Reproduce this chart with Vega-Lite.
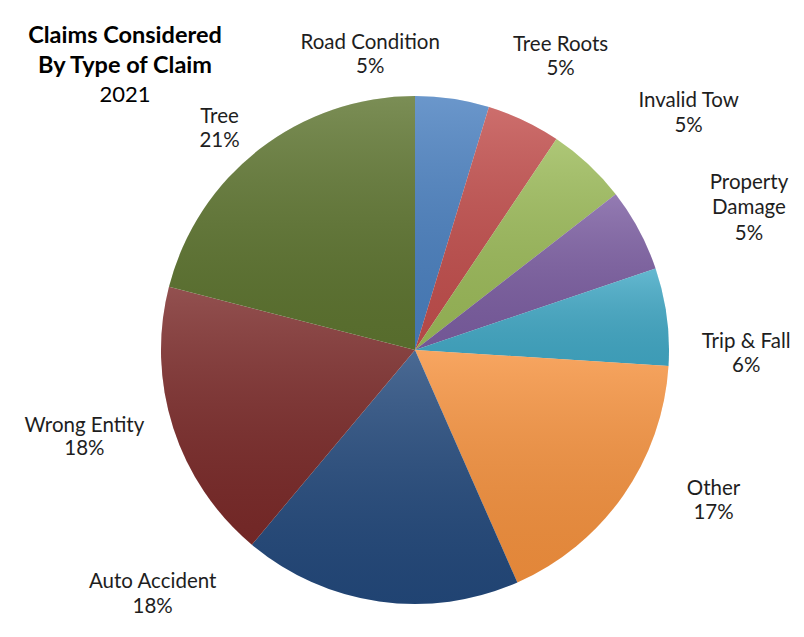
{
  "$schema": "https://vega.github.io/schema/vega-lite/v6.json",
  "width": 508,
  "height": 508,
  "autosize": {"type": "none"},
  "padding": {"left": 161, "top": 96, "right": 135, "bottom": 33},
  "background": "white",
  "config": {
    "view": {"stroke": null},
    "font": "Lato",
    "text": {"font": "Lato", "fontSize": 20.5, "color": "#1e1e1e", "align": "center", "baseline": "alphabetic", "lineHeight": 25}
  },
  "title": {
    "text": ["Claims Considered", "By Type of Claim"],
    "subtitle": "2021",
    "anchor": "start",
    "align": "center",
    "frame": "group",
    "dx": -36,
    "dy": 142,
    "offset": 0,
    "font": "Lato",
    "fontSize": 23.5,
    "fontWeight": "bold",
    "color": "#000000",
    "lineHeight": 30,
    "subtitleFont": "Lato",
    "subtitleFontSize": 22,
    "subtitleFontWeight": "normal",
    "subtitleColor": "#000000",
    "subtitlePadding": 7
  },
  "data": {
    "values": [
      {"cat": "Road Condition", "share": 0.047},
      {"cat": "Tree Roots", "share": 0.047},
      {"cat": "Invalid Tow", "share": 0.051},
      {"cat": "Property Damage", "share": 0.053},
      {"cat": "Trip & Fall", "share": 0.062},
      {"cat": "Other", "share": 0.174},
      {"cat": "Auto Accident", "share": 0.177},
      {"cat": "Wrong Entity", "share": 0.179},
      {"cat": "Tree", "share": 0.21}
    ]
  },
  "transform": [{"window": [{"op": "row_number", "as": "idx"}]}],
  "encoding": {
    "theta": {"field": "share", "type": "quantitative", "stack": true},
    "order": {"field": "idx", "type": "quantitative"},
    "detail": {"field": "cat", "type": "nominal"}
  },
  "layer": [
    {
      "mark": {"type": "arc"},
      "encoding": {
        "color": {
          "field": "cat",
          "type": "nominal",
          "legend": null,
          "scale": {
            "domain": ["Road Condition", "Tree Roots", "Invalid Tow", "Property Damage", "Trip & Fall", "Other", "Auto Accident", "Wrong Entity", "Tree"],
            "range": ["#4a80c0", "#c24e4c", "#9cbb59", "#7c5ea2", "#42a9c6", "#f6923e", "#23497c", "#7b2a29", "#5e7530"]
          }
        }
      }
    },
    {
      "mark": {
        "type": "arc",
        "fill": {
          "gradient": "linear",
          "x1": 0, "y1": 0, "x2": 0, "y2": 1,
          "stops": [
            {"offset": 0, "color": "rgba(255,255,255,0.18)"},
            {"offset": 1, "color": "rgba(0,0,0,0.08)"}
          ]
        }
      }
    },
    {
      "layer": [
        {"mark": {"type": "text", "radius": 287, "dx": -87, "dy": -17},
         "encoding": {"text": {"condition": {"test": "datum.cat === 'Road Condition'", "field": "cat", "type": "nominal"}, "value": ""}}},
        {"mark": {"type": "text", "radius": 287, "dx": -87, "dy": 7},
         "encoding": {"text": {"condition": {"test": "datum.cat === 'Road Condition'", "field": "share", "type": "quantitative", "format": ".0%"}, "value": ""}}}
      ]
    },
    {
      "layer": [
        {"mark": {"type": "text", "radius": 328, "dx": 5, "dy": -3},
         "encoding": {"text": {"condition": {"test": "datum.cat === 'Tree Roots'", "field": "cat", "type": "nominal"}, "value": ""}}},
        {"mark": {"type": "text", "radius": 328, "dx": 5, "dy": 21},
         "encoding": {"text": {"condition": {"test": "datum.cat === 'Tree Roots'", "field": "share", "type": "quantitative", "format": ".0%"}, "value": ""}}}
      ]
    },
    {
      "layer": [
        {"mark": {"type": "text", "radius": 360, "dx": 28, "dy": 20},
         "encoding": {"text": {"condition": {"test": "datum.cat === 'Invalid Tow'", "field": "cat", "type": "nominal"}, "value": ""}}},
        {"mark": {"type": "text", "radius": 360, "dx": 28, "dy": 45},
         "encoding": {"text": {"condition": {"test": "datum.cat === 'Invalid Tow'", "field": "share", "type": "quantitative", "format": ".0%"}, "value": ""}}}
      ]
    },
    {
      "layer": [
        {"mark": {"type": "text", "radius": 361, "dx": 16, "dy": 10, "lineBreak": " "},
         "encoding": {"text": {"condition": {"test": "datum.cat === 'Property Damage'", "field": "cat", "type": "nominal"}, "value": ""}}},
        {"mark": {"type": "text", "radius": 361, "dx": 16, "dy": 61},
         "encoding": {"text": {"condition": {"test": "datum.cat === 'Property Damage'", "field": "share", "type": "quantitative", "format": ".0%"}, "value": ""}}}
      ]
    },
    {
      "layer": [
        {"mark": {"type": "text", "radius": 328, "dx": 6, "dy": 41},
         "encoding": {"text": {"condition": {"test": "datum.cat === 'Trip & Fall'", "field": "cat", "type": "nominal"}, "value": ""}}},
        {"mark": {"type": "text", "radius": 328, "dx": 6, "dy": 65},
         "encoding": {"text": {"condition": {"test": "datum.cat === 'Trip & Fall'", "field": "share", "type": "quantitative", "format": ".0%"}, "value": ""}}}
      ]
    },
    {
      "layer": [
        {"mark": {"type": "text", "radius": 330, "dx": 28, "dy": -44},
         "encoding": {"text": {"condition": {"test": "datum.cat === 'Other'", "field": "cat", "type": "nominal"}, "value": ""}}},
        {"mark": {"type": "text", "radius": 330, "dx": 28, "dy": -20},
         "encoding": {"text": {"condition": {"test": "datum.cat === 'Other'", "field": "share", "type": "quantitative", "format": ".0%"}, "value": ""}}}
      ]
    },
    {
      "layer": [
        {"mark": {"type": "text", "radius": 279, "dx": -223, "dy": -38},
         "encoding": {"text": {"condition": {"test": "datum.cat === 'Auto Accident'", "field": "cat", "type": "nominal"}, "value": ""}}},
        {"mark": {"type": "text", "radius": 279, "dx": -223, "dy": -13},
         "encoding": {"text": {"condition": {"test": "datum.cat === 'Auto Accident'", "field": "share", "type": "quantitative", "format": ".0%"}, "value": ""}}}
      ]
    },
    {
      "layer": [
        {"mark": {"type": "text", "radius": 341, "dx": -6, "dy": -22},
         "encoding": {"text": {"condition": {"test": "datum.cat === 'Wrong Entity'", "field": "cat", "type": "nominal"}, "value": ""}}},
        {"mark": {"type": "text", "radius": 341, "dx": -6, "dy": 1},
         "encoding": {"text": {"condition": {"test": "datum.cat === 'Wrong Entity'", "field": "share", "type": "quantitative", "format": ".0%"}, "value": ""}}}
      ]
    },
    {
      "layer": [
        {"mark": {"type": "text", "radius": 301, "dx": -11, "dy": 11},
         "encoding": {"text": {"condition": {"test": "datum.cat === 'Tree'", "field": "cat", "type": "nominal"}, "value": ""}}},
        {"mark": {"type": "text", "radius": 301, "dx": -11, "dy": 35},
         "encoding": {"text": {"condition": {"test": "datum.cat === 'Tree'", "field": "share", "type": "quantitative", "format": ".0%"}, "value": ""}}}
      ]
    }
  ]
}
